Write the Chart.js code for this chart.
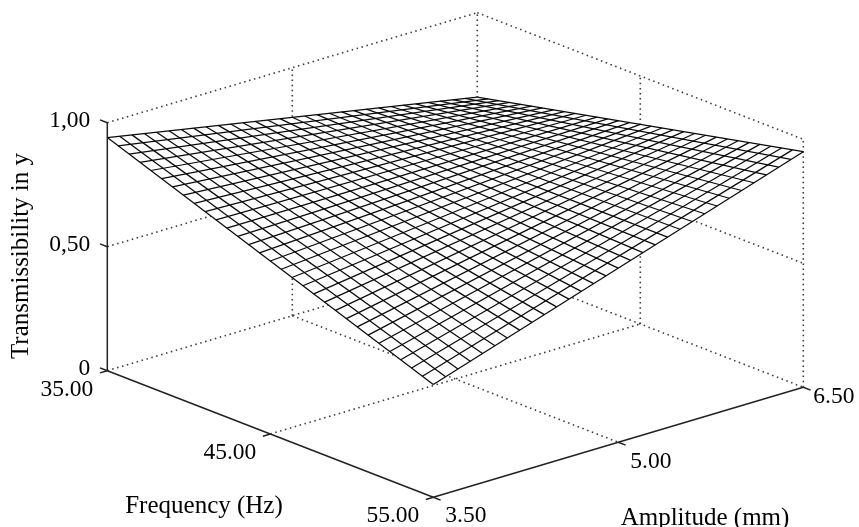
<!DOCTYPE html>
<html>
<head>
<meta charset="utf-8">
<script src="https://cdn.jsdelivr.net/npm/chart.js@4.4.1/dist/chart.umd.min.js"></script>
<style>
  html, body { margin: 0; padding: 0; background: #fff; }
  #wrap { width: 859px; height: 527px; }
</style>
</head>
<body>
<div id="wrap"><canvas id="surf" width="859" height="527"></canvas></div>
<script>
// axis ticks and labels
const freqTicks = [35, 45, 55];
const ampTicks = [3.5, 5, 6.5];
const transTicks = [0, 0.5, 1];
const freqLabels = ['35.00', '45.00', '55.00'];
const ampLabels = ['3.50', '5.00', '6.50'];
const transLabels = ['0', '0,50', '1,00'];

// fitted surface, read at its four corners (amplitude 3.50 / 6.50)
const transAtFreq35 = [0.94, 0.66];
const transAtFreq55 = [0.455, 0.95];
const meshCells = 30;

const fMin = freqTicks[0], fMax = freqTicks[freqTicks.length - 1];
const aMin = ampTicks[0], aMax = ampTicks[ampTicks.length - 1];

// oblique view of the box, in canvas units
const view = { ox: 107.3, oy: 370.7, fx: 326, fy: 126.6, ax: 370, ay: -110, tz: 248 };

function project(f, a, t) {
    const u = (f - fMin) / (fMax - fMin);
    const v = (a - aMin) / (aMax - aMin);
    return {
        x: view.ox + u * view.fx + v * view.ax,
        y: view.oy + u * view.fy + v * view.ay - t * view.tz
    };
}

function surface(f, a) {
    const u = (f - fMin) / (fMax - fMin);
    const v = (a - aMin) / (aMax - aMin);
    return (1 - u) * ((1 - v) * transAtFreq35[0] + v * transAtFreq35[1]) +
           u * ((1 - v) * transAtFreq55[0] + v * transAtFreq55[1]);
}

const datasets = [];
const dotted = { borderColor: '#3a3a3a', borderWidth: 1.6, borderDash: [1.5, 3.6], order: 3 };
const mesh = { borderColor: '#0a0a0a', borderWidth: 1.25, order: 1 };
const solid = { borderColor: '#222', borderWidth: 1.5, order: 0 };

function addLine(pts, style, extra) {
    const ds = Object.assign({ data: pts.map(p => project(p[0], p[1], p[2])), fill: false, pointRadius: 0 }, style, extra || {});
    datasets.push(ds);
    return datasets.length - 1;
}

// floor grid
ampTicks.slice(1).forEach(a => addLine([[fMin, a, 0], [fMax, a, 0]], dotted));
freqTicks.slice(0, -1).forEach(f => addLine([[f, aMin, 0], [f, aMax, 0]], dotted));
// back wall at lowest frequency
transTicks.slice(1).forEach(t => addLine([[fMin, aMin, t], [fMin, aMax, t]], dotted));
ampTicks.slice(1).forEach(a => addLine([[fMin, a, 0], [fMin, a, 1]], dotted));
// back wall at highest amplitude
transTicks.slice(1).forEach(t => addLine([[fMin, aMax, t], [fMax, aMax, t]], dotted));
freqTicks.slice(1).forEach(f => addLine([[f, aMax, 0], [f, aMax, 1]], dotted));

// white surface body so it hides the grid behind it
const clear = { borderColor: 'rgba(0,0,0,0)', borderWidth: 0, order: 2 };
const upper = addLine([[fMin, aMin, surface(fMin, aMin)], [fMin, aMax, surface(fMin, aMax)], [fMax, aMax, surface(fMax, aMax)]], clear);
addLine([[fMin, aMin, surface(fMin, aMin)], [fMax, aMin, surface(fMax, aMin)], [fMax, aMax, surface(fMax, aMax)]], clear,
    { fill: upper, backgroundColor: '#ffffff' });

// mesh
for (let i = 0; i <= meshCells; i++) {
    const f = fMin + (fMax - fMin) * i / meshCells;
    const a = aMin + (aMax - aMin) * i / meshCells;
    addLine([[f, aMin, surface(f, aMin)], [f, aMax, surface(f, aMax)]], mesh);
    addLine([[fMin, a, surface(fMin, a)], [fMax, a, surface(fMax, a)]], mesh);
}

// axes with ticks
addLine([[fMin, aMin, 0], [fMin, aMin, 1]], solid);
addLine([[fMin, aMin, 0], [fMax, aMin, 0]], solid);
addLine([[fMax, aMin, 0], [fMax, aMax, 0]], solid);
transTicks.forEach(t => addLine([[fMin, aMin, t], [fMin - 0.45, aMin, t]], solid));
freqTicks.forEach(f => addLine([[f, aMin, 0], [f, aMin - 0.06, 0]], solid));
ampTicks.forEach(a => addLine([[fMax, a, 0], [fMax + 0.45, a, 0]], solid));

const labels3d = {
    id: 'labels3d',
    afterDatasetsDraw(chart) {
        const ctx = chart.ctx;
        const xs = chart.scales.x, ys = chart.scales.y;
        const px = p => ({ x: xs.getPixelForValue(p.x), y: ys.getPixelForValue(p.y) });
        ctx.save();
        ctx.fillStyle = '#000';
        ctx.textBaseline = 'middle';
        ctx.font = '23.5px "Liberation Serif", "Times New Roman", serif';

        ctx.textAlign = 'right';
        transTicks.forEach((t, i) => {
            const p = px(project(fMin, aMin, t));
            ctx.fillText(transLabels[i], p.x - 17, p.y - 2);
        });
        freqTicks.forEach((f, i) => {
            const p = px(project(f, aMin, 0));
            ctx.fillText(freqLabels[i], p.x - 14, p.y + 19);
        });
        ctx.textAlign = 'left';
        const ampDy = [19, 20, 10];
        ampTicks.forEach((a, i) => {
            const p = px(project(fMax, a, 0));
            ctx.fillText(ampLabels[i], p.x + (i === 2 ? 10 : 12), p.y + ampDy[i]);
        });

        ctx.font = '25px "Liberation Serif", "Times New Roman", serif';
        ctx.textBaseline = 'alphabetic';
        ctx.textAlign = 'center';
        ctx.fillText('Frequency (Hz)', 204, 513);
        ctx.fillText('Amplitude (mm)', 705, 525);
        ctx.translate(28, 256);
        ctx.rotate(-Math.PI / 2);
        ctx.fillText('Transmissibility in y', 0, 0);
        ctx.restore();
    }
};

new Chart(document.getElementById('surf'), {
    type: 'line',
    data: { datasets: datasets },
    options: {
        responsive: false,
        animation: false,
        devicePixelRatio: 1,
        layout: { padding: 0 },
        plugins: { legend: { display: false }, tooltip: { enabled: false } },
        elements: { point: { radius: 0 }, line: { tension: 0 } },
        scales: {
            x: { type: 'linear', min: 0, max: 859, display: false },
            y: { type: 'linear', min: 0, max: 527, reverse: true, display: false }
        }
    },
    plugins: [labels3d]
});
</script>
</body>
</html>
